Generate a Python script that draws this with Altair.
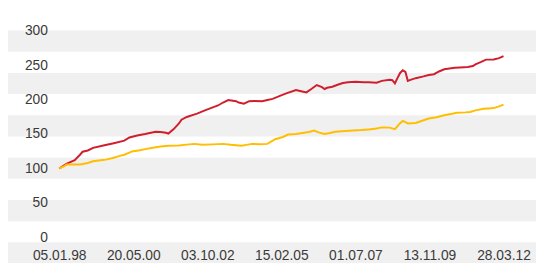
import altair as alt
import pandas as pd

# ---- data ----
red_dates = ["1998-01-05","1998-04-05","1998-07-05","1998-09-05","1998-10-05","1998-12-05",
             "1999-02-05","1999-06-05","1999-10-05","2000-02-05","2000-04-05","2000-07-05",
             "2000-10-05","2001-02-05","2001-04-05","2001-06-05","2001-07-05","2001-09-05",
             "2001-11-05","2001-12-05","2002-02-05","2002-06-05","2002-09-05","2002-11-05",
             "2003-02-05","2003-04-05","2003-06-05","2003-09-05","2003-10-05","2003-12-05",
             "2004-02-05","2004-04-05","2004-07-05","2004-09-05","2004-11-05","2005-02-05",
             "2005-04-05","2005-08-05","2005-10-05","2005-12-05","2006-02-05","2006-04-05",
             "2006-06-05","2006-07-05","2006-08-05","2006-10-05","2006-12-05","2007-02-05",
             "2007-04-05","2007-07-05","2007-10-05","2007-12-05","2008-03-05","2008-05-05",
             "2008-08-05","2008-09-05","2008-10-05","2008-11-05","2008-12-05","2009-01-05",
             "2009-02-05","2009-03-05","2009-04-05","2009-06-05","2009-09-05","2009-11-05",
             "2010-01-05","2010-03-05","2010-05-05","2010-07-05","2010-09-05","2010-11-05",
             "2011-02-05","2011-04-05","2011-05-05","2011-07-05","2011-09-05","2011-12-05",
             "2012-02-05","2012-03-28"]
red_values = [100,107.1,112.1,120,124.3,126.1,
              130,133.3,136.7,140.4,145,147.9,
              150,153.3,152.9,151.9,150.7,157.1,
              165.3,170.7,174.7,179.6,184.3,187.1,
              191.4,195.7,199.3,197.6,195.7,193.9,
              197.6,197.9,197.6,199.3,201,205.7,
              208.6,213.9,212.1,210.4,215.7,221,
              217.9,215.3,217.1,218.6,221.4,223.9,
              225,225.7,225,225,224.3,227.1,
              228.6,228.1,223.3,231.4,238.6,242.4,
              240,227.1,228.6,231,233.6,235.7,
              236.7,240.7,243.9,245,246.1,246.4,
              247.1,248.6,251,254.3,257.9,258.1,
              260,262.9]

yellow_dates = ["1998-01-05","1998-03-05","1998-04-05","1998-07-05","1998-09-05","1998-12-05",
                "1999-02-05","1999-05-05","1999-07-05","1999-10-05","1999-12-05","2000-02-05",
                "2000-04-05","2000-05-05","2000-08-05","2000-10-05","2001-01-05","2001-04-05",
                "2001-07-05","2001-11-05","2002-02-05","2002-05-05","2002-08-05","2002-12-05",
                "2003-04-05","2003-07-05","2003-09-05","2003-11-05","2004-01-05","2004-03-05",
                "2004-06-05","2004-09-05","2004-12-05","2005-03-05","2005-05-05","2005-08-05",
                "2005-11-05","2006-01-05","2006-03-05","2006-05-05","2006-07-05","2006-09-05",
                "2006-11-05","2007-03-05","2007-06-05","2007-09-05","2007-12-05","2008-03-05",
                "2008-05-05","2008-08-05","2008-10-05","2008-11-05","2008-12-05","2009-01-05",
                "2009-02-05","2009-03-05","2009-06-05","2009-09-05","2009-11-05","2010-02-05",
                "2010-05-05","2010-08-05","2010-10-05","2011-01-05","2011-03-05","2011-05-05",
                "2011-08-05","2011-10-05","2011-12-05","2012-02-05","2012-03-28"]
yellow_values = [100,103.6,105.7,105.7,105.7,107.9,
                 110.4,112.1,112.9,115.7,117.9,120,
                 122.9,124.7,126.4,128.1,130,131.9,
                 132.9,133.3,134.6,135.7,134.3,135,
                 135.7,134.3,133.6,132.9,134.3,135.7,
                 135.3,135.7,142.4,145.7,149.3,150,
                 151.9,152.9,155,152.1,150,151.4,
                 153.3,154.3,155,155.7,156.7,157.9,
                 159.6,159.3,157.1,161.4,165.7,169,
                 167.1,165.3,166.1,170,172.4,174.3,
                 177.1,179.3,181,181.4,181.9,184.3,
                 186.7,187.1,187.6,190,192.6]

series_names = ["red", "yellow"]
series_colors = ["#cf1f2e", "#ffbe00"]

x_tick_dates = ["1998-01-05", "2000-05-20", "2002-10-03", "2005-02-15",
                "2007-07-01", "2009-11-13", "2012-03-28"]
y_ticks = [0, 50, 100, 150, 200, 250, 300]

# alternating background bands (in value units)
band_top = [300, 238.6, 177.1, 115.7, 54.3, -7.1]
band_bottom = [269.3, 207.9, 146.4, 85.0, 23.6, -37.9]

# ---- build tables ----
df = pd.concat([
    pd.DataFrame({"date": [d + "T00:00:00" for d in red_dates], "value": red_values, "series": "red"}),
    pd.DataFrame({"date": [d + "T00:00:00" for d in yellow_dates], "value": yellow_values, "series": "yellow"}),
])
bands = pd.DataFrame({"top": band_top, "bottom": band_bottom})

def dt(s):
    y, m, d = (int(p) for p in s.split("-"))
    return alt.DateTime(year=y, month=m, date=d)

W, H = 451, 210
PAD = {"left": 52, "top": 21, "right": 33, "bottom": 24}

yscale = alt.Scale(domain=[0, 300], nice=False, zero=False)
yaxis = alt.Axis(values=y_ticks, title=None, ticks=False, domain=False, grid=False,
                 labelFontSize=14, labelPadding=12, labelColor="#3a3a3a",
                 labelFont="Liberation Sans", labelOverlap=False, labelBound=False,
                 labelFlush=False, zindex=2)

band_layer = alt.Chart(bands).mark_rect(color="#f0f0f0", clip=False).encode(
    x=alt.value(-PAD["left"]),
    x2=alt.value(W + PAD["right"]),
    y=alt.Y("top:Q", scale=yscale, axis=yaxis),
    y2="bottom:Q",
)

lines = alt.Chart(df).mark_line(strokeWidth=2, clip=False).encode(
    x=alt.X("date:T",
            scale=alt.Scale(domain=[dt("1998-01-05"), dt("2012-03-28")], nice=False),
            axis=alt.Axis(values=[dt(s) for s in x_tick_dates], format="%d.%m.%y",
                          title=None, ticks=False, domain=False, grid=False,
                          labelFontSize=14, labelPadding=11, labelColor="#3a3a3a",
                          labelFont="Liberation Sans", labelFlush=False,
                          labelOverlap=False, labelBound=False, zindex=2)),
    y=alt.Y("value:Q", scale=yscale, axis=yaxis),
    color=alt.Color("series:N", scale=alt.Scale(domain=series_names, range=series_colors), legend=None),
    order="date:T",
)

chart = alt.layer(band_layer, lines).properties(
    width=W, height=H,
    autosize=alt.AutoSizeParams(type="none"),
    padding=PAD,
    background="white",
).configure_view(stroke="transparent")

chart.save("out.html", embed_options={"renderer": "svg", "actions": False})
